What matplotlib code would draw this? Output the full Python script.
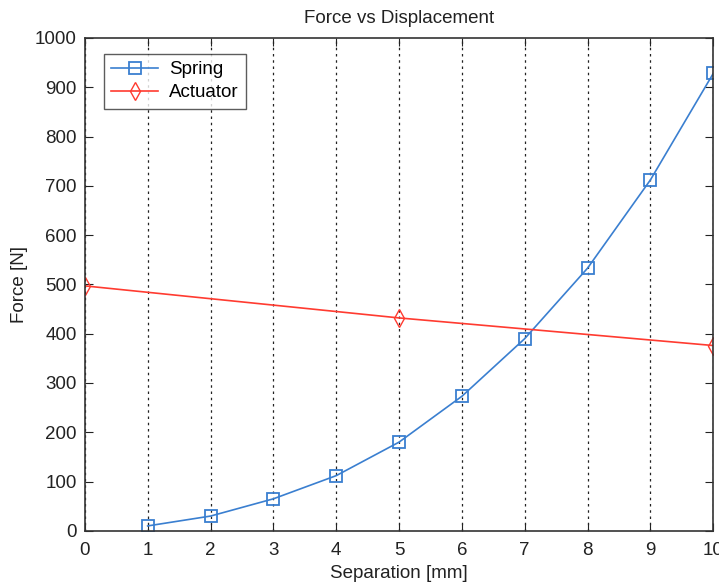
import matplotlib
matplotlib.use("Agg")
import matplotlib.pyplot as plt

spring_x = [1, 2, 3, 4, 5, 6, 7, 8, 9, 10]
spring_y = [10, 30, 65, 112, 180, 273, 390, 533, 712, 928]
act_x = [0, 5, 10]
act_y = [497, 432, 376]
xticks = list(range(0, 11))
yticks = list(range(0, 1001, 100))

plt.rcParams['font.family'] = ['Liberation Sans', 'DejaVu Sans']
fig = plt.figure(figsize=(7.19, 5.84), dpi=100)
ax = fig.add_axes([0.118, 0.091, 0.874, 0.844])

ax.plot(spring_x, spring_y, color='#3a7fd0', lw=1.2, marker='s', ms=9,
        mfc='none', mec='#3a7fd0', mew=1.3, label='Spring')
ax.plot(act_x, act_y, color='#ff3b30', lw=1.2, marker='d', ms=9,
        mfc='none', mec='#ff3b30', mew=1.0, label='Actuator')

ax.set_xlim(0, 10)
ax.set_ylim(0, 1000)
ax.set_xticks(xticks)
ax.set_yticks(yticks)
ax.xaxis.grid(True, linestyle=(0, (2, 3)), color='#222222', lw=0.9)
ax.tick_params(direction='in', top=True, right=True, labelsize=13.5, length=6, colors='#222222')
ax.tick_params(axis='x', pad=8)
ax.tick_params(axis='y', pad=6)
for s in ax.spines.values():
    s.set_color('#333333')
    s.set_linewidth(1.2)

ax.set_title('Force vs Displacement', fontsize=13.5, color='#222222', pad=11)
ax.set_xlabel('Separation [mm]', fontsize=13.5, color='#222222', labelpad=4)
ax.set_ylabel('Force [N]', fontsize=13.5, color='#222222', labelpad=5)

leg = ax.legend(loc='upper left', bbox_to_anchor=(0.030, 0.968), fontsize=13.5,
                frameon=True, fancybox=False, edgecolor='#333333',
                handlelength=2.5, borderpad=0.4, labelspacing=0.3, handletextpad=0.6,
                borderaxespad=0)
leg.get_frame().set_linewidth(1.0)

fig.savefig('out.png', dpi=100)
